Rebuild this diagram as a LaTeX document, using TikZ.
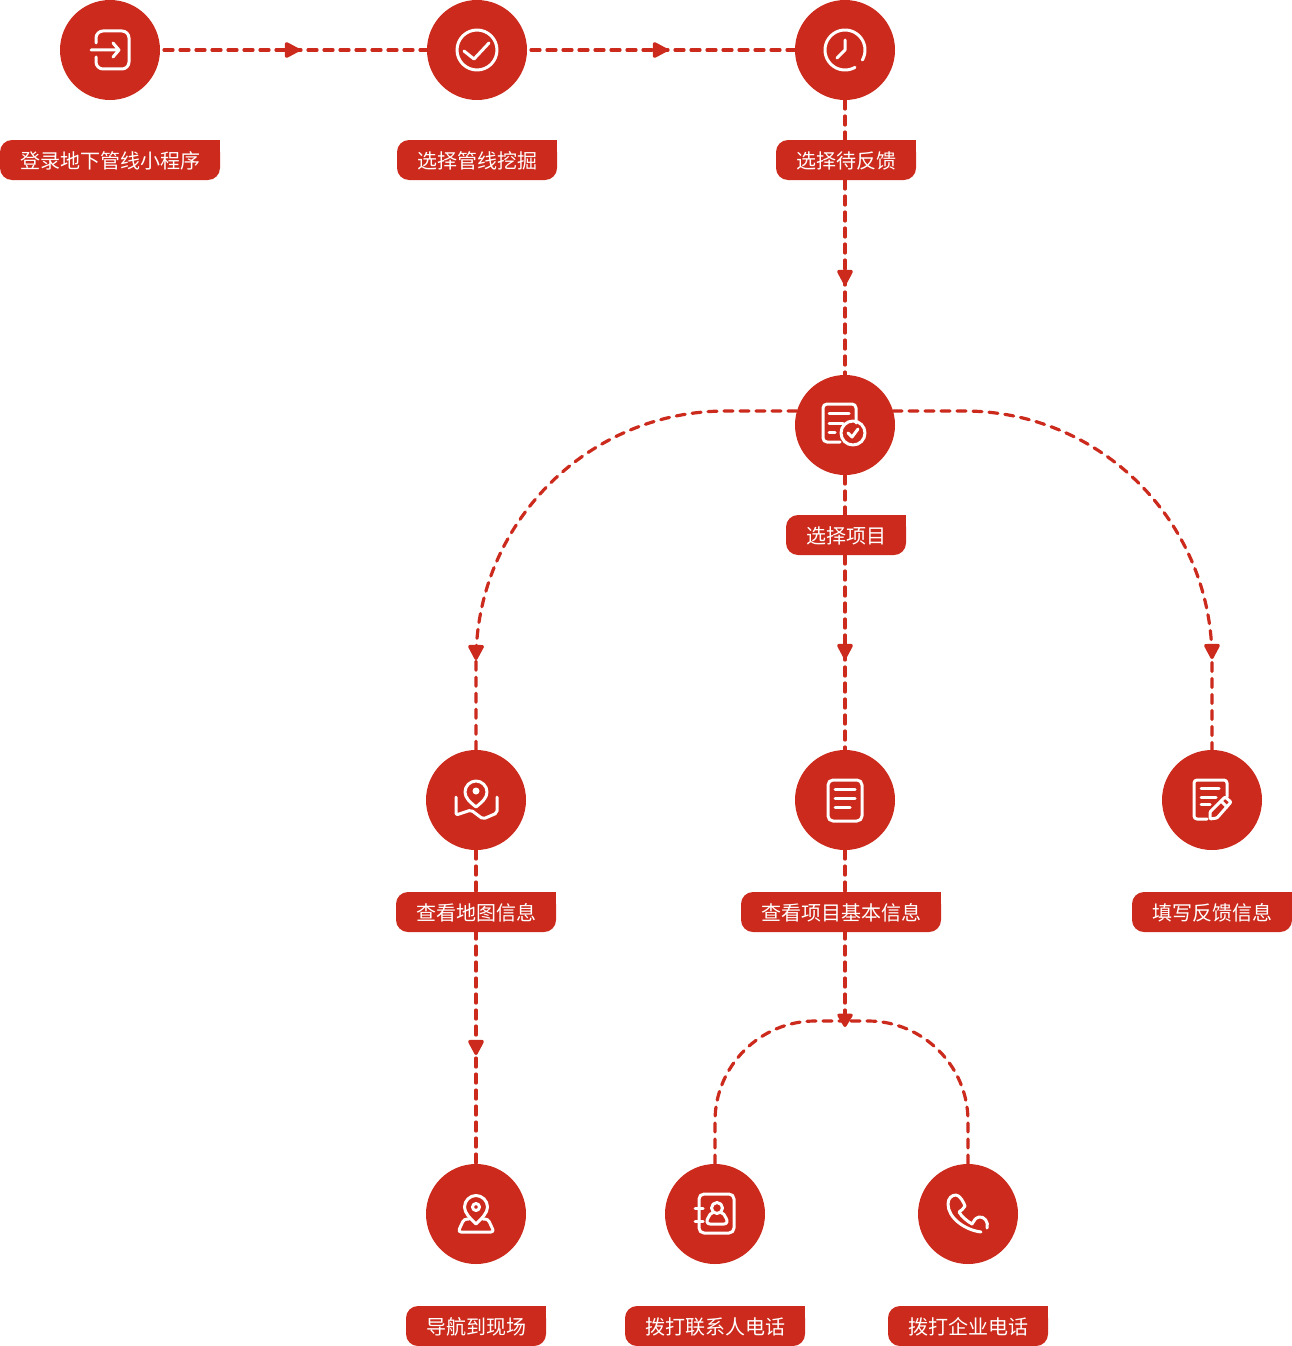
\documentclass[tikz,border=0pt]{standalone}
\usepackage{fontspec}
\newfontfamily\cjk{Noto Sans CJK SC}
\usetikzlibrary{arrows.meta,decorations.markings}
\definecolor{brandred}{HTML}{CB2A1C}
\pgfdeclarelayer{conn}
\pgfsetlayers{conn,main}
\tikzset{
  disc/.style={circle,fill=brandred,minimum size=100pt,inner sep=0pt,outer sep=0pt},
  pill/.style={fill=brandred,rounded corners=12pt,minimum height=40pt,inner sep=0pt,outer sep=0pt,text=white,
    font=\cjk\fontsize{20}{20}\selectfont,text height=18pt,text depth=2pt},
  conn/.style={draw=brandred,line width=3.2pt,line cap=round,dash pattern=on 9pt off 7pt},
  arrowat/.style={postaction={decorate,draw=none,decoration={markings,mark=at position #1 with {\arrow{Triangle[length=17pt,width=17pt,round,color=brandred,fill=brandred]}}}}},
  endtip/.style={-{Triangle[length=15pt,width=17pt,round]}},
  icon/.style={draw=white,line width=3pt,line cap=round,line join=round},
  iconr/.style={icon,rounded corners=#1},
}
\newcommand{\pillbox}[5]{% name, x, y, width, text
  \node[pill,minimum width=#4pt] (#1) at (#2,#3) {#5};
  \fill[brandred] (#1.north east) rectangle ++(-14,14);
}
\begin{document}
\begin{tikzpicture}[x=1pt,y=-1pt]
\useasboundingbox (0,0) rectangle (1292,1346);
% discs
\node[disc] (c1) at (110,50) {};
\node[disc] (c2) at (477,50) {};
\node[disc] (c3) at (845,50) {};
\node[disc] (c4) at (845,425) {};
\node[disc] (c5) at (476,800) {};
\node[disc] (c6) at (845,800) {};
\node[disc] (c7) at (1212,800) {};
\node[disc] (c8) at (476,1214) {};
\node[disc] (c9) at (715,1214) {};
\node[disc] (c10) at (968,1214) {};
% labels
\pillbox{l1}{110}{160}{220}{登录地下管线小程序}
\pillbox{l2}{477}{160}{160}{选择管线挖掘}
\pillbox{l3}{846}{160}{140}{选择待反馈}
\pillbox{l4}{846}{535}{120}{选择项目}
\pillbox{l5}{476}{912}{160}{查看地图信息}
\pillbox{l6}{841}{912}{200}{查看项目基本信息}
\pillbox{l7}{1212}{912}{160}{填写反馈信息}
\pillbox{l8}{476}{1326}{140}{导航到现场}
\pillbox{l9}{715}{1326}{180}{拨打联系人电话}
\pillbox{l10}{968}{1326}{160}{拨打企业电话}
\coordinate (m) at (845,1021);
\coordinate (mt) at (845,1027);
% connectors
\begin{pgfonlayer}{conn}
\draw[conn,dash phase=12pt,arrowat=140pt] (c1.east) -- (c2.west);
\draw[conn,dash phase=12pt,arrowat=141pt] (c2.east) -- (c3.west);
\draw[conn,arrowat=185pt] (c3.south) -- (c4.north);
\draw[conn,arrowat=-90pt] ([xshift=-48pt,yshift=14pt]c4.center) -- (726,411) .. controls (588,411) and (476,523) .. (476,661) -- (c5.north);
\draw[conn,arrowat=-91pt] (c4.south) -- (c6.north);
\draw[conn,arrowat=-91pt] ([xshift=48pt,yshift=14pt]c4.center) -- (964,411) .. controls (1101,411) and (1212,522) .. (1212,660) -- (c7.north);
\draw[conn,arrowat=-109pt] (c5.south) -- (c8.north);
\draw[conn,endtip] (c6.south) -- (mt);
\draw[conn] (c9.north) -- (715,1121) .. controls (715,1066) and (760,1021) .. (815,1021) -- (m);
\draw[conn] (c10.north) -- (968,1121) .. controls (968,1066) and (923,1021) .. (868,1021) -- (m);
\end{pgfonlayer}
% icon 1: sign in
\draw[iconr=7pt] (96,43) -- (96,31) -- (129,31) -- (129,69) -- (96,69) -- (96,57);
\draw[icon] (91,50) -- (119,50) (113,43) -- (119,50) -- (113,57);
% icon 2: check
\draw[icon] (477,50) circle[radius=20pt];
\draw[icon] (464,51) -- (474,59) -- (489,43);
% icon 3: clock
\draw[icon] plot[domain=60:390,samples=60] ({845+20*cos(\x)},{50+20*sin(\x)});
\draw[icon] (845,40) -- (845,50) -- (837,58);
% icon 4: checked document
\draw[iconr=4pt] (856,423) -- (856,404) -- (823,404) -- (823,442) -- (840,442);
\draw[icon] (829,413) -- (849,413) (829,423) -- (843,423) (829,432) -- (835,432);
\draw[icon] (853,433) circle[radius=12pt];
\draw[icon] (848,433) -- (852,437) -- (858,429);
% icon 5: map pin
\draw[icon] (476,807) .. controls (470,802) and (465,798) .. (465,792) .. controls (465,786) and (470,781) .. (476,781) .. controls (482,781) and (487,786) .. (487,792) .. controls (487,798) and (482,802) .. (476,807) -- cycle;
\fill[white] (476,791) circle[radius=3.5pt];
\draw[iconr=2pt] (456,797) -- (456,815) -- (471,810) -- (483,819) -- (497,813) -- (497,797);
% icon 6: document
\draw[iconr=5pt] (828,780) rectangle (862,821);
\draw[icon] (835,789) -- (855,789) (835,798) -- (855,798) (835,807) -- (850,807);
% icon 7: edit document
\draw[iconr=3pt] (1227,797) -- (1227,780) -- (1194,780) -- (1194,819) -- (1207,819);
\draw[icon] (1201,788) -- (1219,788) (1201,797) -- (1216,797) (1201,804) -- (1210,804);
\draw[iconr=1pt] (1210,819) -- (1210,812) -- (1225,797) -- (1231,802) -- (1217,818) -- cycle;
\draw[icon] (1221,801) -- (1227,807);
% icon 8: navigation
\draw[icon] (476,1224) .. controls (470,1218) and (464.500,1213) .. (464.500,1207) .. controls (464.500,1200.500) and (470,1195.500) .. (476,1195.500) .. controls (482,1195.500) and (487.500,1200.500) .. (487.500,1207) .. controls (487.500,1213) and (482,1218) .. (476,1224) -- cycle;
\draw[icon] (476,1207) circle[radius=3.5pt];
\draw[iconr=3pt] (469,1219) -- (464,1219) -- (458,1232) -- (494,1232) -- (488,1219) -- (483,1219);
% icon 9: contacts
\draw[iconr=5pt] (699,1194) rectangle (734,1233);
\draw[icon] (695,1208) -- (703,1208) (695,1221) -- (703,1221);
\draw[icon] (717,1208) circle[radius=5.500pt];
\draw[icon] (710,1224) -- (724,1224) .. controls (727,1224) and (728,1221) .. (726,1218) .. controls (725,1215) and (723,1213) .. (721,1212.500) (713,1212.500) .. controls (711,1213) and (709,1215) .. (708,1218) .. controls (706,1221) and (707,1224) .. (710,1224);
% icon 10: phone
\draw[icon] (981,1232) .. controls (965,1230) and (948,1218) .. (948,1204) .. controls (948,1198) and (952,1195) .. (956,1195) .. controls (960,1195) and (964,1203) .. (965,1206) .. controls (964,1209) and (961,1210) .. (959,1212) .. controls (962,1217) and (967,1221) .. (972,1224) .. controls (974,1221) and (975,1218) .. (979,1217) .. controls (984,1216) and (989,1222) .. (987,1228);
\end{tikzpicture}
\end{document}
